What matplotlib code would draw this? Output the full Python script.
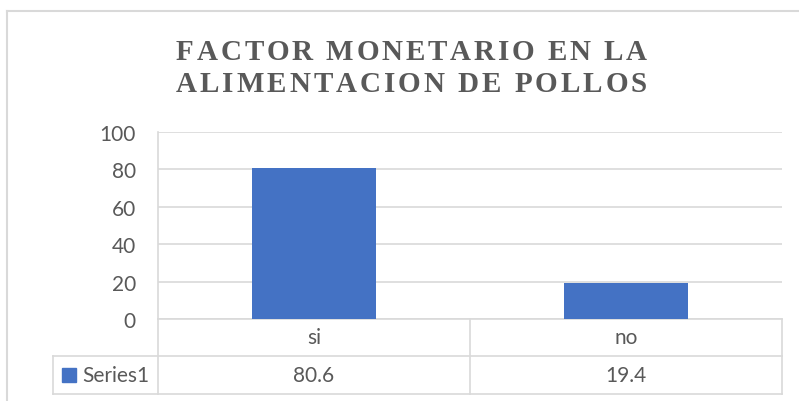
import numpy as np
import matplotlib
matplotlib.use("Agg")
import matplotlib.pyplot as plt
import matplotlib.transforms as mtransforms
from matplotlib.lines import Line2D
from matplotlib.font_manager import findfont, FontProperties
from matplotlib.ft2font import FT2Font

# data
categories = ["si", "no"]
values = [80.6, 19.4]
series_name = "Series1"
yticks = [0, 20, 40, 60, 80, 100]
title_lines = ["FACTOR MONETARIO EN LA", "ALIMENTACION DE POLLOS"]

BAR = "#4472C4"
TXT = "#595959"
GRID = "#D9D9D9"
SANS = "Lato"

W, H = 799, 402
fig = plt.figure(figsize=(W / 100, H / 100), dpi=100)

# plot area in pixels: x 158..782, y 133..320
ax = fig.add_axes([158 / W, 1 - 320 / H, 624 / W, 187 / H])
x = np.arange(len(categories))
ax.bar(x, values, width=0.4, color=BAR, zorder=3)
ax.set_xlim(-0.5, len(categories) - 0.5)
ax.set_ylim(0, 100)
ax.set_yticks(yticks)
ax.set_xticks([])
ax.tick_params(axis="y", length=0, pad=16, labelsize=15, labelcolor=TXT)
for lab in ax.get_yticklabels():
    lab.set_fontfamily(SANS)
for s in ["top", "right", "bottom"]:
    ax.spines[s].set_visible(False)
ax.spines["left"].set_color(GRID)
ax.spines["left"].set_linewidth(1.2)
ax.yaxis.grid(True, color=GRID, linewidth=1.2)
ax.set_axisbelow(True)

# data table below the axis
tr = mtransforms.blended_transform_factory(ax.transData, ax.transAxes)
r1 = -37 / 187
r2 = -75 / 187
left_cell = -0.5 - 105 / 312
xr = len(categories) - 0.5
line_kw = dict(color=GRID, linewidth=1.2, transform=tr, clip_on=False)
ax.plot([-0.5, xr], [0, 0], **line_kw)
ax.plot([left_cell, xr], [r1, r1], **line_kw)
ax.plot([left_cell, xr], [r2, r2], **line_kw)
ax.plot([left_cell, left_cell], [r1, r2], **line_kw)
ax.plot([-0.5, -0.5], [0, r2], **line_kw)
for i in range(len(categories)):
    xb = i + 0.5
    ax.plot([xb, xb], [0, r2], **line_kw)
for i, (c, v) in enumerate(zip(categories, values)):
    ax.text(i, r1 / 2, c, transform=tr, ha="center", va="center",
            fontsize=15, color=TXT, family=SANS)
    ax.text(i, (r1 + r2) / 2, f"{v:.1f}", transform=tr, ha="center",
            va="center", fontsize=15, color=TXT, family=SANS)
ax.plot([-0.5 - 89 / 312], [(r1 + r2) / 2], marker="s", markersize=10,
        color=BAR, transform=tr, clip_on=False, linestyle="none")
ax.text(-0.5 - 76 / 312, (r1 + r2) / 2, series_name, transform=tr,
        ha="left", va="center", fontsize=15, color=TXT, family=SANS)

# spaced title, each line stretched to ~471 px wide
title_size = 21
font = FT2Font(findfont(FontProperties(family="Liberation Serif", weight="bold")))
font.set_size(title_size, 100)
line_width = 471
centre = 411.5
for line, base in zip(title_lines, [59.5, 92.5]):
    adv = [font.load_char(ord(ch)).linearHoriAdvance / 65536 for ch in line]
    spacing = (line_width - sum(adv)) / (len(line) - 1)
    xpos = centre - line_width / 2
    for ch, a in zip(line, adv):
        fig.text(xpos / W, 1 - base / H, ch, ha="left", va="baseline",
                 fontsize=title_size, fontweight="bold",
                 family="Liberation Serif", color=TXT)
        xpos += a + spacing

# chart border (cropped on right and bottom)
fig.add_artist(Line2D([7 / W, 7 / W], [0, 1 - 12 / H], color=GRID,
                      linewidth=1.5, transform=fig.transFigure))
fig.add_artist(Line2D([7 / W, 1], [1 - 12 / H, 1 - 12 / H], color=GRID,
                      linewidth=1.5, transform=fig.transFigure))

fig.savefig("out.png", dpi=100)
